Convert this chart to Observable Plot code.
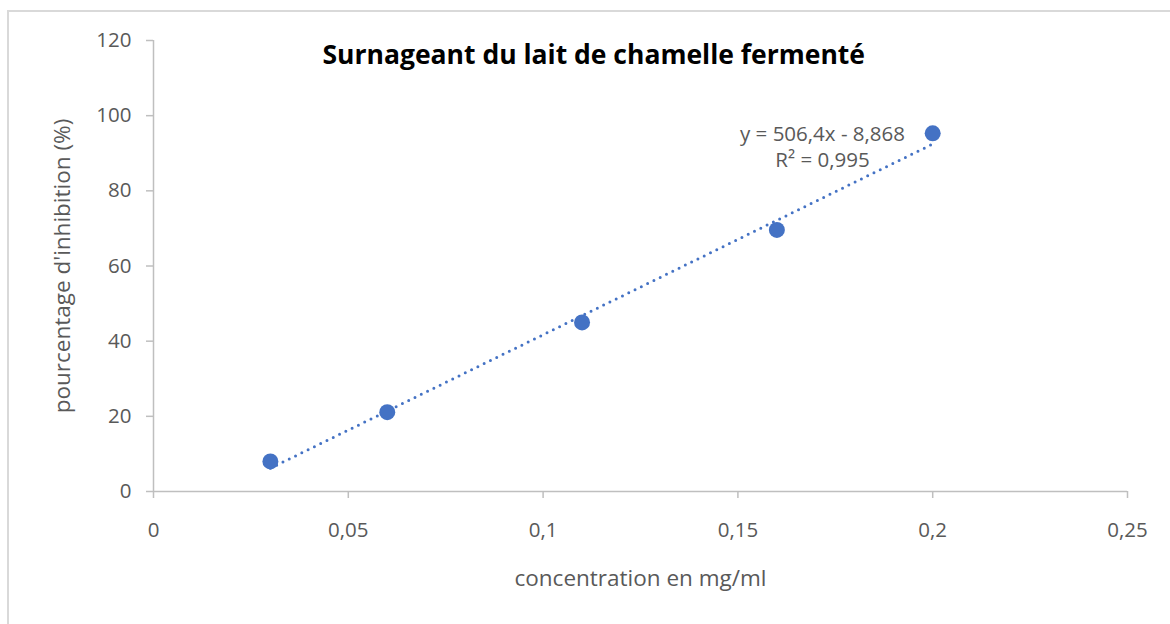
<!DOCTYPE html>
<html>
<head>
<meta charset="utf-8">
<script src="https://cdn.jsdelivr.net/npm/d3@7"></script>
<script src="https://cdn.jsdelivr.net/npm/@observablehq/plot@0.6"></script>
<style>
  html, body { margin: 0; padding: 0; background: #fff; }
  #wrap { position: relative; width: 1170px; height: 624px; overflow: hidden; }
  #frame { position: absolute; left: 7px; top: 10px; width: 1300px; height: 700px;
           border-left: 2px solid #d9d9d9; border-top: 2px solid #d9d9d9; }
  #chart { position: absolute; left: 0; top: 0; }
</style>
</head>
<body>
<div id="wrap"><div id="frame"></div><div id="chart"></div></div>
<script>
// Data
const concentration = [0.03, 0.06, 0.11, 0.16, 0.2];
const inhibition = [8.0, 21.1, 45.0, 69.6, 95.3];
const xTicks = [0, 0.05, 0.1, 0.15, 0.2, 0.25];
const yTicks = [0, 20, 40, 60, 80, 100, 120];
const titleText = "Surnageant du lait de chamelle fermenté";
const xLabel = "concentration en mg/ml";
const yLabel = "pourcentage d'inhibition (%)";
const equationLines = ["y = 506,4x - 8,868", "R² = 0,995"];

const data = concentration.map((c, i) => ({x: c, y: inhibition[i]}));
const fmt = d => String(d).replace(".", ",");
const blue = "#4472C4";
const axisGray = "#bfbfbf";
const textGray = "#595959";
const font = "'Open Sans', sans-serif";

const chart = Plot.plot({
  width: 1170,
  height: 624,
  marginLeft: 153,
  marginRight: 43,
  marginTop: 40,
  marginBottom: 133,
  style: {fontFamily: font, fontSize: "20px", background: "transparent", color: textGray},
  x: {domain: [0, 0.25]},
  y: {domain: [0, 120]},
  marks: [
    Plot.ruleY([0], {stroke: axisGray, strokeWidth: 1.5}),
    Plot.ruleX([0], {stroke: axisGray, strokeWidth: 1.5}),
    Plot.axisX({ticks: xTicks, tickFormat: fmt, tickSize: 7, tickPadding: 24, fontSize: 20.5, stroke: axisGray, strokeWidth: 1.5, fill: textGray, label: null}),
    Plot.axisY({ticks: yTicks, tickFormat: fmt, tickSize: 7, tickPadding: 15, fontSize: 20.5, stroke: axisGray, strokeWidth: 1.5, fill: textGray, label: null}),
    Plot.linearRegressionY(data, {x: "x", y: "y", ci: 0, stroke: blue, strokeWidth: 3, strokeDasharray: "0,7", strokeLinecap: "round"}),
    Plot.dot(data, {x: "x", y: "y", r: 8, fill: blue, stroke: "none"}),
    Plot.text([titleText], {frameAnchor: "top-left", dx: 169, dy: 5, fontSize: 26.5, fontWeight: "bold", fill: "#000", text: d => d, textAnchor: "start"}),
    Plot.text([equationLines.join("\n")], {frameAnchor: "top-left", dx: 669, dy: 105, lineHeight: 1.3, fontSize: 20.5, fill: textGray, text: d => d, textAnchor: "middle", lineAnchor: "middle"}),
    Plot.text([xLabel], {frameAnchor: "bottom", dy: 94, fontSize: 22.5, fill: textGray, text: d => d, textAnchor: "middle"}),
    Plot.text([yLabel], {frameAnchor: "left", dx: -91, rotate: -90, fontSize: 22.5, fill: textGray, text: d => d, textAnchor: "middle"})
  ]
});
document.getElementById("chart").appendChild(chart);
</script>
</body>
</html>
